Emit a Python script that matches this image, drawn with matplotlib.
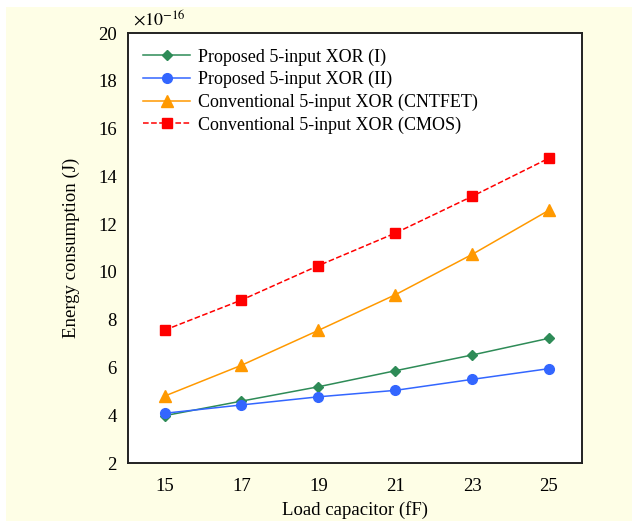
import numpy as np
import matplotlib.pyplot as plt
from matplotlib.patches import Rectangle

plt.rcParams['font.family'] = 'Liberation Serif'
plt.rcParams['mathtext.fontset'] = 'stix'

# energy in units of 1e-16 J
load_cap = [15, 17, 19, 21, 23, 25]
xor_i = [3.98, 4.59, 5.19, 5.86, 6.52, 7.22]
xor_ii = [4.08, 4.43, 4.77, 5.04, 5.50, 5.95]
xor_cntfet = [4.80, 6.09, 7.55, 9.04, 10.73, 12.58]
xor_cmos = [7.56, 8.82, 10.26, 11.62, 13.16, 14.76]
y_ticks = [2, 4, 6, 8, 10, 12, 14, 16, 18, 20]

fig = plt.figure(figsize=(6.32, 5.21), dpi=100)
# cream background panel (small white strip at the top and left)
bg = Rectangle((6/632, 0), 1 - 6/632, 1 - 7/521, transform=fig.transFigure,
               facecolor='#FEFEE6', edgecolor='none', zorder=-10)
fig.add_artist(bg)
ax = fig.add_axes([128/632, 58/521, 454/632, 430/521])
ax.set_facecolor('white')

ax.plot(load_cap, xor_i, '-D', color='#2E8B57', ms=5.5, lw=1.1,
        label='Proposed 5-input XOR (I)')
ax.plot(load_cap, xor_ii, '-o', color='#3366FF', ms=7, lw=1.1,
        label='Proposed 5-input XOR (II)')
ax.plot(load_cap, xor_cntfet, '-^', color='#FF9900', ms=8, lw=1.1,
        label='Conventional 5-input XOR (CNTFET)')
ax.plot(load_cap, xor_cmos, '--s', color='#FF0000', ms=7, lw=1.1,
        label='Conventional 5-input XOR (CMOS)')

ax.set_xlim(14.05, 25.86)
ax.set_ylim(2, 20)
ax.set_xticks(load_cap)
ax.set_yticks(y_ticks)
ax.tick_params(length=0, labelsize=13.5)
ax.tick_params(axis='y', pad=8)
ax.tick_params(axis='x', pad=11)
for s in ax.spines.values():
    s.set_linewidth(1.4)
    s.set_color('#222222')
ax.text(0.012, 1.008, r'$\times10^{-16}$', transform=ax.transAxes, fontsize=13,
        ha='left', va='bottom')

ax.set_xlabel('Load capacitor (fF)', fontsize=13.5, labelpad=4)
ax.set_ylabel('Energy consumption (J)', fontsize=13.5, labelpad=13)

ax.legend(loc='upper left', frameon=False, fontsize=13, handlelength=2.6,
          handletextpad=0.4, labelspacing=0.3, borderaxespad=0.4,
          borderpad=0.45)

fig.savefig('out.png', dpi=100)
